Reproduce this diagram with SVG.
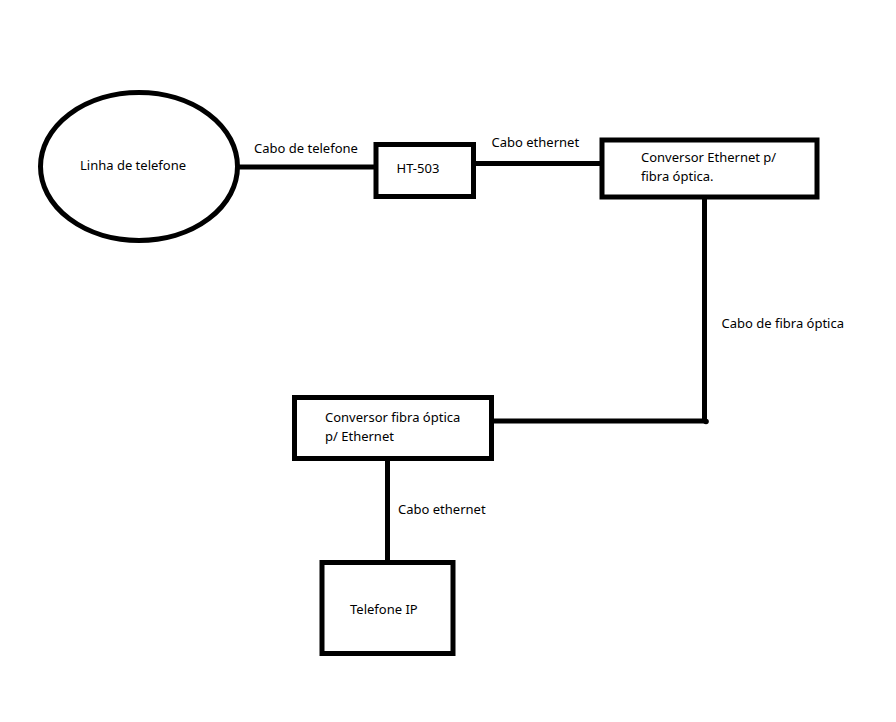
<svg xmlns="http://www.w3.org/2000/svg" width="896" height="722" viewBox="0 0 896 722">
<style>
.shape{fill:#fff;stroke:#000;stroke-width:5}
.wire{fill:none;stroke:#000;stroke-width:5}
text{font-family:"Noto Sans","Open Sans",sans-serif;font-size:13px;fill:#000}
</style>
<rect width="896" height="722" fill="#fff"/>
<g id="connectors">
<line class="wire" x1="238" y1="167" x2="376" y2="167"/>
<line class="wire" x1="473" y1="163.5" x2="602" y2="163.5"/>
<polyline class="wire" points="704.5,197 704.5,421 492,421"/>
<circle cx="706" cy="421.5" r="2.8" fill="#000"/>
<line class="wire" x1="387.5" y1="458" x2="387.5" y2="563"/>
<text x="254" y="153">Cabo de telefone</text>
<text x="491.5" y="147">Cabo ethernet</text>
<text x="721.5" y="327.5">Cabo de fibra óptica</text>
<text x="398" y="513.5">Cabo ethernet</text>
</g>
<g id="linha">
<ellipse class="shape" cx="139" cy="166.5" rx="98.5" ry="74"/>
<text x="80" y="169.5">Linha de telefone</text>
</g>
<g id="ht503">
<rect class="shape" x="376" y="144.5" width="97.5" height="52"/>
<text x="396.5" y="173">HT-503</text>
</g>
<g id="conv1">
<rect class="shape" x="602" y="140" width="215" height="57"/>
<text x="641" y="162">Conversor Ethernet p/</text>
<text x="641" y="180.5">fibra óptica.</text>
</g>
<g id="conv2">
<rect class="shape" x="294.5" y="397.5" width="197" height="61"/>
<text x="325" y="422">Conversor fibra óptica</text>
<text x="325" y="440.5">p/ Ethernet</text>
</g>
<g id="telefone">
<rect class="shape" x="322" y="562.5" width="131" height="91"/>
<text x="350" y="613.5">Telefone IP</text>
</g>
</svg>
